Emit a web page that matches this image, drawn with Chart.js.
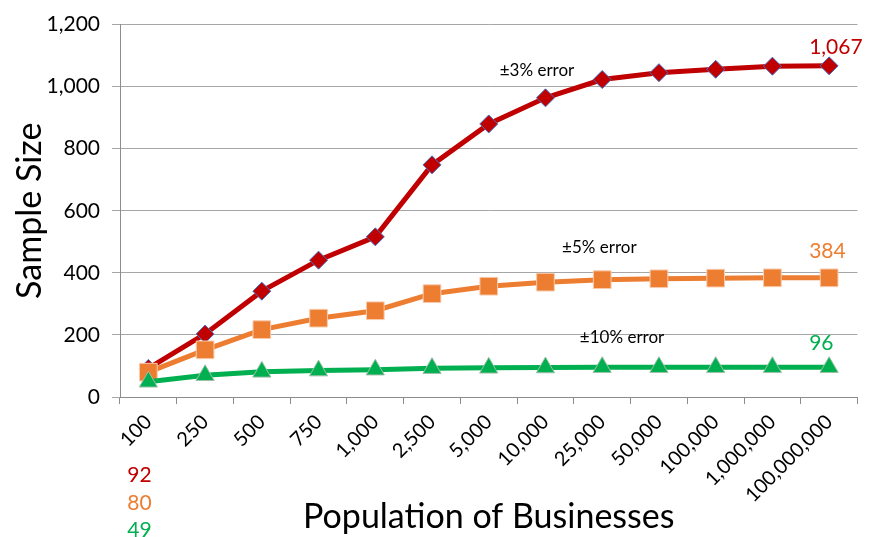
<!DOCTYPE html>
<html>
<head>
<meta charset="utf-8">
<script src="https://cdn.jsdelivr.net/npm/chart.js@4.4.1/dist/chart.umd.min.js"></script>
<style>
  html, body { margin: 0; padding: 0; background: #fff; }
  #wrap { width: 871px; height: 537px; position: relative; }
</style>
</head>
<body>
<div id="wrap"><canvas id="chart" width="871" height="537"></canvas></div>
<script>
// Population sizes (x categories)
const populations = ['100', '250', '500', '750', '1,000', '2,500', '5,000', '10,000',
  '25,000', '50,000', '100,000', '1,000,000', '100,000,000'];

// Required sample size at each margin of error
const errorPct3 = [92, 203, 341, 441, 516, 748, 880, 964, 1023, 1045, 1056, 1066, 1067];
const errorPct5 = [80, 152, 217, 254, 278, 333, 357, 370, 378, 381, 383, 384, 384];
const errorPct10 = [49, 70, 81, 85, 88, 93, 94, 95, 96, 96, 96, 96, 96];

// Series captions
const seriesNames = ['±3% error', '±5% error', '±10% error'];

// Y axis range
const yMin = 0;
const yMax = 1200;
const yStep = 200;

const RED = '#c00000';
const ORANGE = '#ed7d31';
const GREEN = '#00b050';
const FONT = 'Lato, "Open Sans", sans-serif';

const fmt = v => v.toLocaleString('en-US');

// Captions and end values written next to each line
const annotations = {
  id: 'annotations',
  afterDatasetsDraw(chart) {
    const { ctx, scales: { x, y } } = chart;
    const last = populations.length - 1;
    ctx.save();
    ctx.textBaseline = 'middle';

    // series captions
    ctx.fillStyle = '#000';
    ctx.font = '17px ' + FONT;
    ctx.textAlign = 'center';
    ctx.fillText(seriesNames[0], x.getPixelForValue(6.85), y.getPixelForValue(1052));
    ctx.fillText(seriesNames[1], x.getPixelForValue(7.95), y.getPixelForValue(482));
    ctx.fillText(seriesNames[2], x.getPixelForValue(8.35), y.getPixelForValue(193));

    // final values at the right end
    ctx.font = '21px ' + FONT;
    ctx.textAlign = 'left';
    const xr = x.getPixelForValue(last) - 20;
    ctx.fillStyle = RED;
    ctx.fillText(fmt(errorPct3[last]), xr, y.getPixelForValue(errorPct3[last]) - 19);
    ctx.fillStyle = ORANGE;
    ctx.fillText(fmt(errorPct5[last]), xr, y.getPixelForValue(errorPct5[last]) - 27);
    ctx.fillStyle = GREEN;
    ctx.fillText(fmt(errorPct10[last]), xr, y.getPixelForValue(errorPct10[last]) - 24);

    // starting values stacked under the first category
    const xl = x.getPixelForValue(0) - 21;
    ctx.fillStyle = RED;
    ctx.fillText(fmt(errorPct3[0]), xl, 475);
    ctx.fillStyle = ORANGE;
    ctx.fillText(fmt(errorPct5[0]), xl, 503);
    ctx.fillStyle = GREEN;
    ctx.fillText(fmt(errorPct10[0]), xl, 530);
    ctx.restore();
  }
};

new Chart(document.getElementById('chart'), {
  type: 'line',
  data: {
    labels: populations,
    datasets: [
      {
        label: seriesNames[0],
        data: errorPct3,
        borderColor: RED,
        backgroundColor: RED,
        borderWidth: 5,
        pointStyle: 'rectRot',
        pointRadius: 9,
        pointBorderColor: '#4472c4',
        pointBorderWidth: 1,
        pointBackgroundColor: RED,
        tension: 0,
        order: 3
      },
      {
        label: seriesNames[1],
        data: errorPct5,
        borderColor: ORANGE,
        backgroundColor: ORANGE,
        borderWidth: 5,
        pointStyle: 'rect',
        pointRadius: 12.5,
        pointBorderColor: '#f8cbad',
        pointBorderWidth: 1,
        pointBackgroundColor: ORANGE,
        tension: 0,
        order: 2
      },
      {
        label: seriesNames[2],
        data: errorPct10,
        borderColor: GREEN,
        backgroundColor: GREEN,
        borderWidth: 5,
        pointStyle: 'triangle',
        pointRadius: 10.5,
        pointBorderColor: '#9fbfa8',
        pointBorderWidth: 1,
        pointBackgroundColor: GREEN,
        tension: 0,
        order: 1
      }
    ]
  },
  options: {
    responsive: false,
    animation: false,
    devicePixelRatio: 1,
    layout: { padding: { top: 24, right: 9, left: 0, bottom: 0 } },
    plugins: {
      legend: { display: false },
      tooltip: { enabled: false }
    },
    scales: {
      x: {
        type: 'category',
        offset: true,
        afterFit(scale) { scale.height = 140; },
        grid: {
          offset: true,
          drawOnChartArea: false,
          drawTicks: true,
          tickLength: 7,
          color: '#8c8c8c'
        },
        border: { display: true, color: '#8c8c8c', width: 1 },
        ticks: {
          autoSkip: false,
          minRotation: 45,
          maxRotation: 45,
          padding: 6,
          color: '#000',
          font: { family: FONT, size: 20 }
        },
        title: {
          display: true,
          text: 'Population of Businesses',
          color: '#000',
          padding: { top: 0, bottom: 0 },
          font: { family: FONT, size: 34, lineHeight: 1.2 }
        }
      },
      y: {
        min: yMin,
        max: yMax,
        afterFit(scale) { scale.width = 120; },
        grid: {
          color: '#a6a6a6',
          lineWidth: 1,
          drawTicks: true,
          tickLength: 8
        },
        border: { display: true, color: '#8c8c8c', width: 1 },
        ticks: {
          stepSize: yStep,
          padding: 12,
          color: '#000',
          font: { family: FONT, size: 21 }
        },
        title: {
          display: true,
          text: 'Sample Size',
          color: '#000',
          padding: { top: 10, bottom: 0 },
          font: { family: FONT, size: 34, lineHeight: 1.2 }
        }
      }
    }
  },
  plugins: [annotations]
});
</script>
</body>
</html>
